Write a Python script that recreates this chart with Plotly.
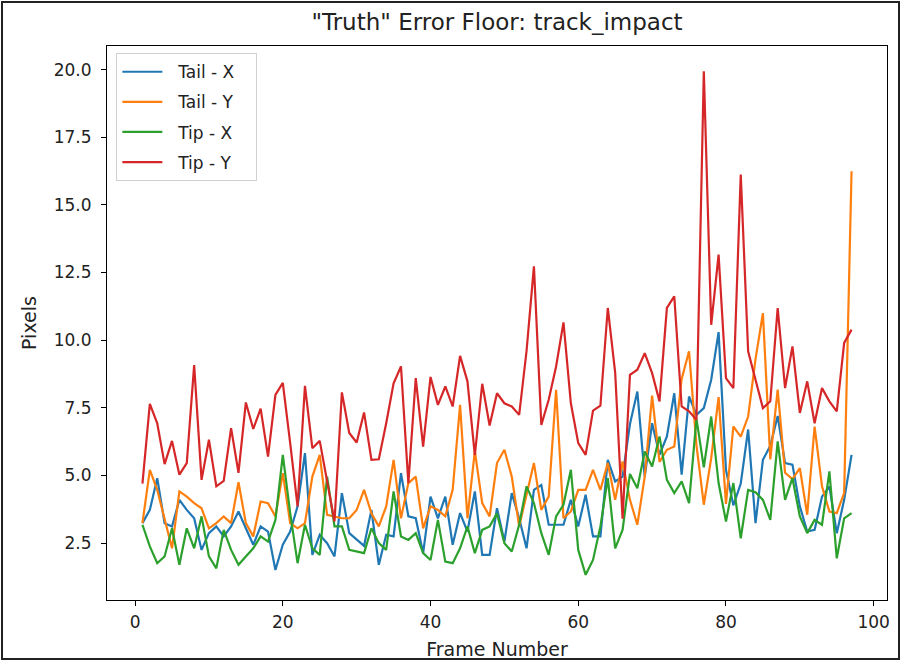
import plotly.graph_objects as go

# Frame indices
frames = list(range(1, 98))

# Per-frame pixel error for each tracked coordinate
tail_x = [3.24, 3.73, 4.9, 3.24, 3.12, 4.1, 3.73, 3.42, 2.25, 2.87,
          3.12, 2.75, 3.12, 3.67, 3.05, 2.44, 3.12, 2.93, 1.51, 2.44,
          2.93, 3.86, 5.83, 2.07, 2.81, 2.5, 2.01, 4.35, 2.87, 2.62,
          2.4, 3.73, 1.7, 2.81, 2.75, 5.09, 3.49, 3.42, 2.13, 4.22,
          3.42, 4.22, 2.44, 3.61, 2.93, 4.41, 2.07, 2.07, 3.79, 2.56,
          4.35, 3.42, 2.31, 4.47, 4.65, 3.18, 3.18, 3.18, 4.1, 3.12,
          4.29, 2.75, 2.75, 5.58, 4.78, 4.96, 6.9, 8.1, 4.96, 6.93,
          5.76, 6.44, 8.04, 5.03, 7.92, 7.24, 7.49, 8.54, 10.3, 5.2,
          3.9, 4.7, 6.7, 3.24, 5.58, 6.1, 7.2, 5.46, 5.4, 3.86,
          2.93, 2.99, 4.22, 4.6, 2.87, 4.1, 5.76]

tail_y = [3.24, 5.21, 4.47, 3.36, 2.31, 4.41, 4.22, 3.98, 3.79, 3.05,
          3.24, 3.49, 3.24, 4.75, 3.24, 2.75, 4.04, 3.98, 3.49, 5.09,
          3.24, 3.05, 3.24, 4.96, 5.76, 3.55, 3.49, 3.42, 3.42, 3.73,
          4.47, 3.6, 3.12, 3.86, 5.58, 3.42, 4.72, 4.96, 3.05, 3.86,
          3.73, 3.49, 4.47, 7.61, 3.42, 5.9, 3.98, 3.49, 5.46, 5.95,
          4.96, 3.12, 4.29, 5.46, 3.73, 4.22, 8.17, 3.42, 3.67, 4.47,
          4.47, 5.21, 4.47, 5.46, 4.1, 5.52, 4.1, 3.18, 4.96, 7.95,
          5.5, 5.95, 6.07, 8.57, 9.59, 6.13, 3.92, 5.64, 7.9, 3.95,
          6.81, 6.44, 7.18, 9.3, 11.0, 5.6, 8.17, 5.1, 4.87, 5.27,
          3.55, 6.81, 4.6, 3.67, 3.61, 4.35, 16.24]

tip_x = [3.18, 2.38, 1.76, 2.01, 3.05, 1.7, 3.05, 2.31, 3.49, 2.01,
         1.57, 2.99, 2.25, 1.7, 2.01, 2.31, 2.75, 2.56, 3.36, 5.76,
         3.61, 1.76, 3.18, 2.31, 2.07, 4.96, 3.12, 3.12, 2.25, 2.19,
         2.13, 3.05, 2.5, 2.25, 4.41, 2.75, 2.62, 2.87, 2.13, 1.88,
         3.36, 1.82, 1.76, 2.31, 3.12, 2.13, 2.99, 3.12, 3.6, 2.5,
         2.19, 3.18, 4.6, 3.98, 2.87, 2.07, 3.49, 3.92, 5.21, 2.25,
         1.33, 1.88, 3.12, 4.9, 2.31, 2.99, 5.06, 4.53, 5.89, 5.33,
         6.44, 4.84, 4.35, 4.78, 3.98, 7.1, 5.3, 7.18, 4.72, 3.3,
         4.72, 2.68, 4.47, 4.38, 4.1, 3.36, 6.26, 4.1, 4.9, 3.49,
         2.87, 3.36, 3.18, 5.15, 1.94, 3.42, 3.61]

tip_y = [4.7, 7.65, 6.93, 5.42, 6.28, 5.03, 5.46, 9.08, 4.84, 6.32,
         4.6, 4.8, 6.75, 5.1, 7.7, 6.72, 7.47, 5.7, 7.98, 8.42,
         6.2, 3.86, 8.31, 6.01, 6.28, 4.8, 3.3, 8.07, 6.57, 6.22,
         7.33, 5.58, 5.6, 6.93, 8.41, 9.03, 4.72, 8.6, 6.07, 8.64,
         7.61, 8.29, 7.55, 9.42, 8.48, 5.75, 8.39, 6.85, 8.04, 7.67,
         7.55, 7.24, 9.6, 12.73, 6.87, 7.8, 9.03, 10.66, 7.67, 6.2,
         5.76, 7.4, 7.58, 11.19, 8.8, 3.4, 8.72, 8.91, 9.52, 8.78,
         7.74, 11.19, 11.62, 7.55, 7.37, 7.06, 19.94, 10.57, 13.16, 8.6,
         8.23, 16.12, 9.59, 8.54, 7.49, 7.74, 11.19, 8.23, 9.77, 7.31,
         8.48, 6.93, 8.23, 7.74, 7.37, 9.9, 10.39]

series_names = ["Tail - X", "Tail - Y", "Tip - X", "Tip - Y"]
series_values = [tail_x, tail_y, tip_x, tip_y]
series_colors = ["#1f77b4", "#ff7f0e", "#2ca02c", "#d62728"]

x_ticks = [0, 20, 40, 60, 80, 100]
y_ticks = [2.5, 5.0, 7.5, 10.0, 12.5, 15.0, 17.5, 20.0]

FONT = "DejaVu Sans"
NBSP = "\u00a0"

fig = go.Figure()
for name, vals, color in zip(series_names, series_values, series_colors):
    fig.add_trace(go.Scatter(
        x=frames, y=vals, mode="lines",
        name=NBSP * 2 + name + NBSP * 3, legendgroup=name,
        line=dict(color=color, width=2.2),
    ))

L, R, T, B = 107, 887, 46, 600
W, H = 902, 662
pw, ph = R - L, B - T

fig.update_layout(
    width=W, height=H,
    margin=dict(l=L, r=W - R, t=T, b=H - B, autoexpand=False),
    paper_bgcolor="white", plot_bgcolor="white",
    font=dict(family=FONT, size=17, color="#222"),
    title=dict(text='"Truth" Error Floor: track_impact', x=(L + R) / 2 / W,
               xanchor="center", y=1 - 22 / H, yanchor="middle",
               font=dict(size=23, color="#222")),
    showlegend=True,
    legend=dict(x=0.012, y=0.987, xanchor="left", yanchor="top",
                bgcolor="white", bordercolor="#d0d0d0", borderwidth=1,
                font=dict(size=17, color="#222"), tracegroupgap=5,
                itemwidth=40),
    xaxis=dict(range=[-3.8, 101.8], tickvals=x_ticks,
               ticktext=[str(v) for v in x_ticks], automargin=False,
               showgrid=False, zeroline=False, showline=True,
               linecolor="black", linewidth=1, mirror=True,
               ticks="outside", ticklen=5, tickcolor="black",
               tickfont=dict(size=17), ticklabelstandoff=2,
               title=dict(text="Frame Number", font=dict(size=19), standoff=11)),
    yaxis=dict(range=[0.40, 20.87], tickvals=y_ticks,
               ticktext=[f"{v:.1f}" for v in y_ticks], automargin=False,
               showgrid=False, zeroline=False, showline=True,
               linecolor="black", linewidth=1, mirror=True,
               ticks="outside", ticklen=5, tickcolor="black",
               tickfont=dict(size=17), ticklabelstandoff=6,
               title=dict(text="Pixels", font=dict(size=19), standoff=12)),
)

# Dark frame around the whole figure
fig.add_shape(type="rect", xref="paper", yref="paper",
              x0=(2 - L) / pw, x1=(899 - L) / pw,
              y0=(B - 659) / ph, y1=(B - 2) / ph,
              line=dict(color="#222", width=2), fillcolor="rgba(0,0,0,0)",
              layer="above")

fig.write_html("out.html")
